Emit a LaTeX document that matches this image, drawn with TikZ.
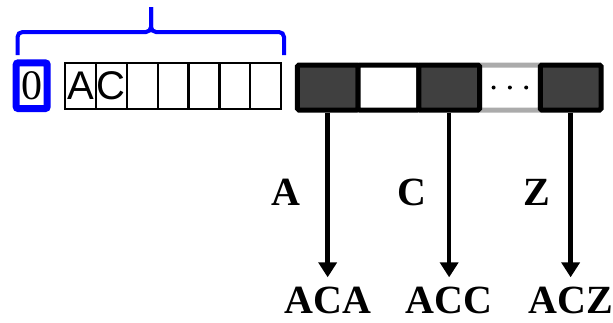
\documentclass[tikz,border=0pt]{standalone}
\usepackage{fontspec}
\setmainfont{Liberation Serif}
\newfontfamily\arial{Liberation Sans}
\usetikzlibrary{arrows.meta}
\begin{document}
\begin{tikzpicture}[x=1pt,y=-1pt,
		cell/.style={draw,line width=2.2pt,anchor=north west,inner sep=0pt,minimum width=30.86pt,minimum height=46pt,font=\arial\fontsize{40}{40}\selectfont},
		slot/.style={draw,line width=5pt,anchor=north west,inner sep=0pt,minimum width=60.74pt,minimum height=45pt,rounded corners=1.5pt},
		full/.style={slot,fill=black!75},
		word/.style={font=\bfseries\fontsize{40}{40}\selectfont,inner sep=0pt},
		arr/.style={line width=4.5pt,-{Triangle[length=15pt,width=18pt]},shorten >=9pt}]
	\useasboundingbox (0,0) rectangle (613,322);
	% the read and its first position
	\node[draw=blue,line width=7pt,rounded corners=2pt,minimum width=31pt,minimum height=45.7pt,inner sep=0pt,font=\fontsize{42}{42}\selectfont] (zero) at (31.7,85.7) {0};
	\foreach \t [count=\i from 0] in {A,C,{},{},{},{},{}}
		\node[cell] (c\i) at (64+30.86*\i,62) {\t};
	\draw[blue,line width=4pt,rounded corners=5pt] (17.5,55) |- (151,32) -- (151,7);
	\draw[blue,line width=4pt,rounded corners=5pt] (151,7) -- (151,32) -| (284,55);
	% the table of successors
	\node[slot,draw=black!33] (s3) at (294.8+60.74*3,62.5) {};
	\node[full] (s0) at (294.8,62.5) {};
	\node[slot,fill=white] (s1) at (294.8+60.74,62.5) {};
	\node[full] (s2) at (294.8+60.74*2,62.5) {};
	\node[full] (s4) at (294.8+60.74*4,62.5) {};
	\foreach \dx in {-16.3,0,16.3}
		\fill ([xshift=\dx pt]s3.center) circle (2pt);
	\node[word,anchor=base] (w0) at (s0.south |- 0,313) {ACA};
	\node[word,anchor=base] (w2) at (s2.south |- 0,313) {ACC};
	\node[word,anchor=base] (w4) at (s4.south |- 0,313) {ACZ};
	\node[word,anchor=base] (l0) at (286,205) {A};
	\node[word,anchor=base] (l2) at (412,205) {C};
	\node[word,anchor=base] (l4) at (537,205) {Z};
	\draw[arr] (s0.south) -- (w0.north);
	\draw[arr] (s2.south) -- (w2.north);
	\draw[arr] (s4.south) -- (w4.north);
\end{tikzpicture}
\end{document}
